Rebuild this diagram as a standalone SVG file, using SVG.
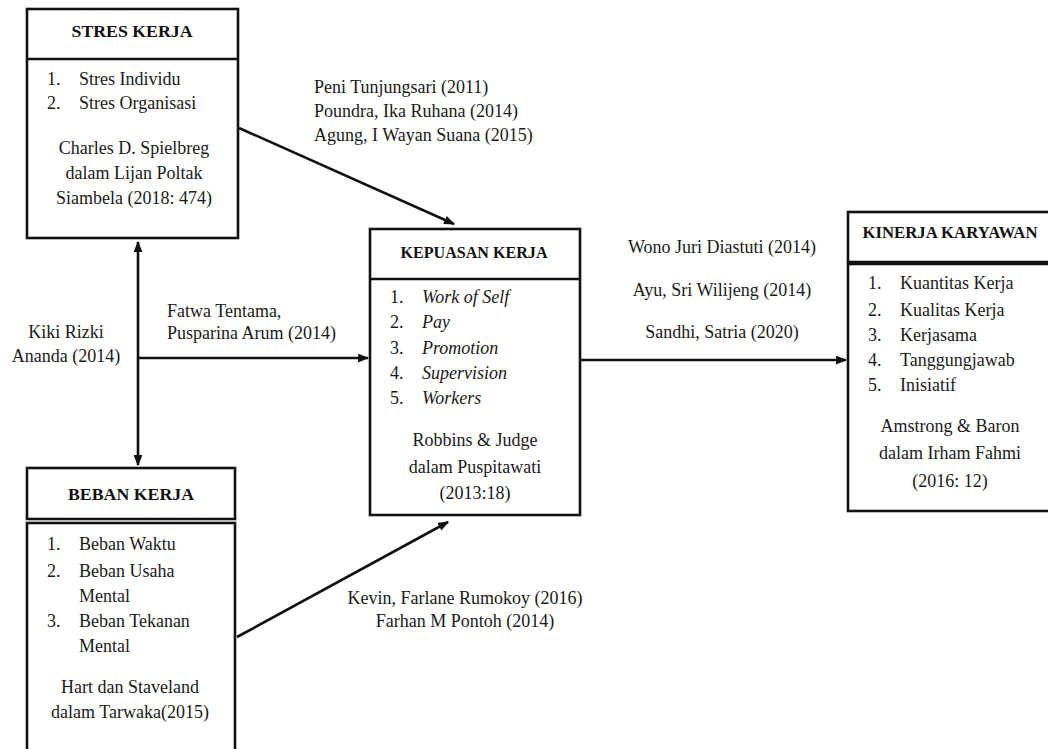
<svg xmlns="http://www.w3.org/2000/svg" width="1048" height="749" viewBox="0 0 1048 749">
<defs>
<style>
.box{fill:#fff;stroke:#111;stroke-width:2.6}
.ln{fill:none;stroke:#111;stroke-width:2.6}
text{font-family:'Liberation Serif','Times New Roman','DejaVu Serif',serif}
.t{font-size:18px;fill:#1a1a1a}
.h{font-size:17px;font-weight:bold;fill:#111}
.c{text-anchor:middle}
.i{font-style:italic}
</style>
<marker id="arr" viewBox="0 0 10 8" refX="9" refY="4" markerWidth="11" markerHeight="9" markerUnits="userSpaceOnUse" orient="auto-start-reverse">
<path d="M0,0 L10,4 L0,8 Z" fill="#111"/>
</marker>
</defs>
<rect width="1048" height="749" fill="#fff"/>

<g id="connectors">
<line class="ln" x1="239" y1="128" x2="454" y2="224" marker-end="url(#arr)"/>
<line class="ln" x1="138" y1="242" x2="138" y2="465" marker-start="url(#arr)" marker-end="url(#arr)"/>
<line class="ln" x1="138" y1="358" x2="368" y2="358" marker-end="url(#arr)"/>
<line class="ln" x1="237" y1="637" x2="448" y2="522" marker-end="url(#arr)"/>
<line class="ln" x1="581" y1="360" x2="846" y2="360" marker-end="url(#arr)"/>
</g>

<g id="labels" font-family="Liberation Serif, serif">
<text class="t" x="314" y="93">Peni Tunjungsari (2011)</text>
<text class="t" x="314" y="117">Poundra, Ika Ruhana (2014)</text>
<text class="t" x="314" y="141">Agung, I Wayan Suana (2015)</text>
<text class="t" x="167" y="317">Fatwa Tentama,</text>
<text class="t" x="167" y="339">Pusparina Arum (2014)</text>
<text class="t c" x="66" y="338">Kiki Rizki</text>
<text class="t c" x="66" y="362">Ananda (2014)</text>
<text class="t c" x="465" y="604">Kevin, Farlane Rumokoy (2016)</text>
<text class="t c" x="465" y="627">Farhan M Pontoh (2014)</text>
<text class="t c" x="722" y="253">Wono Juri Diastuti (2014)</text>
<text class="t c" x="722" y="296">Ayu, Sri Wilijeng (2014)</text>
<text class="t c" x="722" y="338">Sandhi, Satria (2020)</text>
</g>

<g id="stres-kerja">
<rect class="box" x="27" y="9" width="211" height="229"/>
<line class="ln" x1="27" y1="59" x2="238" y2="59"/>
<text class="h c" x="132" y="37" textLength="121" lengthAdjust="spacingAndGlyphs">STRES KERJA</text>
<text class="t" x="47" y="85">1.</text><text class="t" x="79" y="85">Stres Individu</text>
<text class="t" x="47" y="109">2.</text><text class="t" x="79" y="109">Stres Organisasi</text>
<text class="t c" x="134" y="154">Charles D. Spielbreg</text>
<text class="t c" x="134" y="179">dalam Lijan Poltak</text>
<text class="t c" x="134" y="204">Siambela (2018: 474)</text>
</g>

<g id="beban-kerja">
<rect class="box" x="27" y="468" width="208" height="51"/>
<rect class="box" x="27" y="523" width="208" height="240"/>
<text class="h c" x="131" y="500" textLength="126" lengthAdjust="spacingAndGlyphs">BEBAN KERJA</text>
<text class="t" x="47" y="550">1.</text><text class="t" x="79" y="550">Beban Waktu</text>
<text class="t" x="47" y="577">2.</text><text class="t" x="79" y="577">Beban Usaha</text>
<text class="t" x="79" y="602">Mental</text>
<text class="t" x="47" y="627">3.</text><text class="t" x="79" y="627">Beban Tekanan</text>
<text class="t" x="79" y="652">Mental</text>
<text class="t c" x="130" y="693">Hart dan Staveland</text>
<text class="t c" x="130" y="718">dalam Tarwaka(2015)</text>
</g>

<g id="kepuasan-kerja">
<rect class="box" x="370" y="229" width="210" height="286"/>
<line class="ln" x1="370" y1="279" x2="580" y2="279"/>
<text class="h c" x="474" y="258" textLength="147" lengthAdjust="spacingAndGlyphs">KEPUASAN KERJA</text>
<text class="t" x="390" y="303">1.</text><text class="t i" x="422" y="303">Work of Self</text>
<text class="t" x="390" y="328">2.</text><text class="t i" x="422" y="328">Pay</text>
<text class="t" x="390" y="354">3.</text><text class="t i" x="422" y="354">Promotion</text>
<text class="t" x="390" y="379">4.</text><text class="t i" x="422" y="379">Supervision</text>
<text class="t" x="390" y="404">5.</text><text class="t i" x="422" y="404">Workers</text>
<text class="t c" x="475" y="446">Robbins &amp; Judge</text>
<text class="t c" x="475" y="473">dalam Puspitawati</text>
<text class="t c" x="475" y="499">(2013:18)</text>
</g>

<g id="kinerja-karyawan">
<rect class="box" x="848" y="212" width="204" height="50"/>
<rect class="box" x="848" y="264" width="204" height="247"/>
<text class="h c" x="950" y="238" textLength="175" lengthAdjust="spacingAndGlyphs">KINERJA KARYAWAN</text>
<text class="t" x="868" y="289">1.</text><text class="t" x="900" y="289">Kuantitas Kerja</text>
<text class="t" x="868" y="316">2.</text><text class="t" x="900" y="316">Kualitas Kerja</text>
<text class="t" x="868" y="341">3.</text><text class="t" x="900" y="341">Kerjasama</text>
<text class="t" x="868" y="366">4.</text><text class="t" x="900" y="366">Tanggungjawab</text>
<text class="t" x="868" y="391">5.</text><text class="t" x="900" y="391">Inisiatif</text>
<text class="t c" x="950" y="432">Amstrong &amp; Baron</text>
<text class="t c" x="950" y="459">dalam Irham Fahmi</text>
<text class="t c" x="950" y="487">(2016: 12)</text>
</g>
</svg>
